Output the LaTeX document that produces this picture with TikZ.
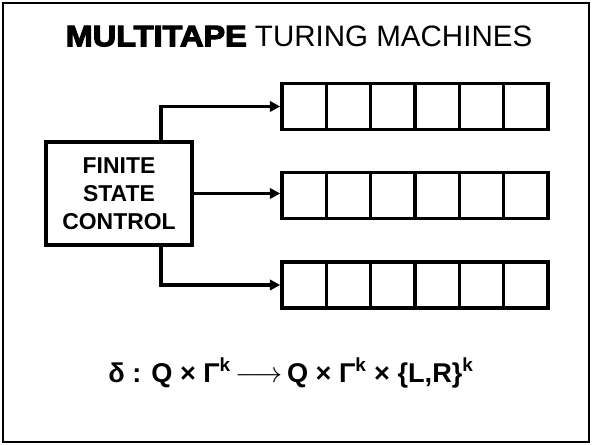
\documentclass[tikz,border=0pt]{standalone}
\usepackage{fontspec}
\setmainfont{Liberation Sans}
\newfontfamily\heavyfont{Liberation Sans}[BoldFeatures={FakeBold=4,FakeStretch=1.1}]
\usepackage{tikz}
\usetikzlibrary{arrows.meta, positioning}

\begin{document}
\begin{tikzpicture}[
  x=0.025cm, y=-0.025cm,
  frame/.style={draw, line width=1.5pt},
  cell/.style={draw, line width=2.5pt, minimum width=1.108cm,
               minimum height=1.15cm, inner sep=0pt},
  fsc/.style={draw, line width=2.3pt, minimum width=3.65cm,
              minimum height=2.575cm, align=center,
              font=\bfseries\fontsize{16.3}{19.8}\selectfont},
  link/.style={-{Triangle[length=2.6mm,width=2.6mm]}, line width=2.4pt},
  >=Stealth
]
  \useasboundingbox (0,0) rectangle (592,445);
  \draw[frame] (3,3) rectangle (589,442);

  % title
  \node (title) at (299,36)
    {\fontsize{21}{24}\selectfont{\heavyfont\bfseries MULTITAPE} TURING MACHINES};

  % control box
  \node[fsc] (ctrl) at (119,193.5) {FINITE\\STATE\\CONTROL};

  % three tapes of six cells
  \foreach \t/\y in {A/106.5,B/195.5,C/285}
    \foreach \i in {1,...,6}
      \node[cell] (\t\i) at ({282+44.33*(\i-0.5)},\y) {};

  \draw[link] ([xshift=1.05cm]ctrl.north) |- (A1.west);
  \draw[link] (ctrl.east) -- (ctrl.east -| B1.west);
  \draw[link] ([xshift=1.05cm]ctrl.south) |- (C1.west);

  % transition function
  \node (delta) at (291,373)
    {\bfseries\fontsize{19.3}{22}\selectfont
     δ : Q × Γ\textsuperscript{k}\,$\longrightarrow$\,Q × Γ\textsuperscript{k} × \{L,R\}\textsuperscript{k}};
\end{tikzpicture}
\end{document}
